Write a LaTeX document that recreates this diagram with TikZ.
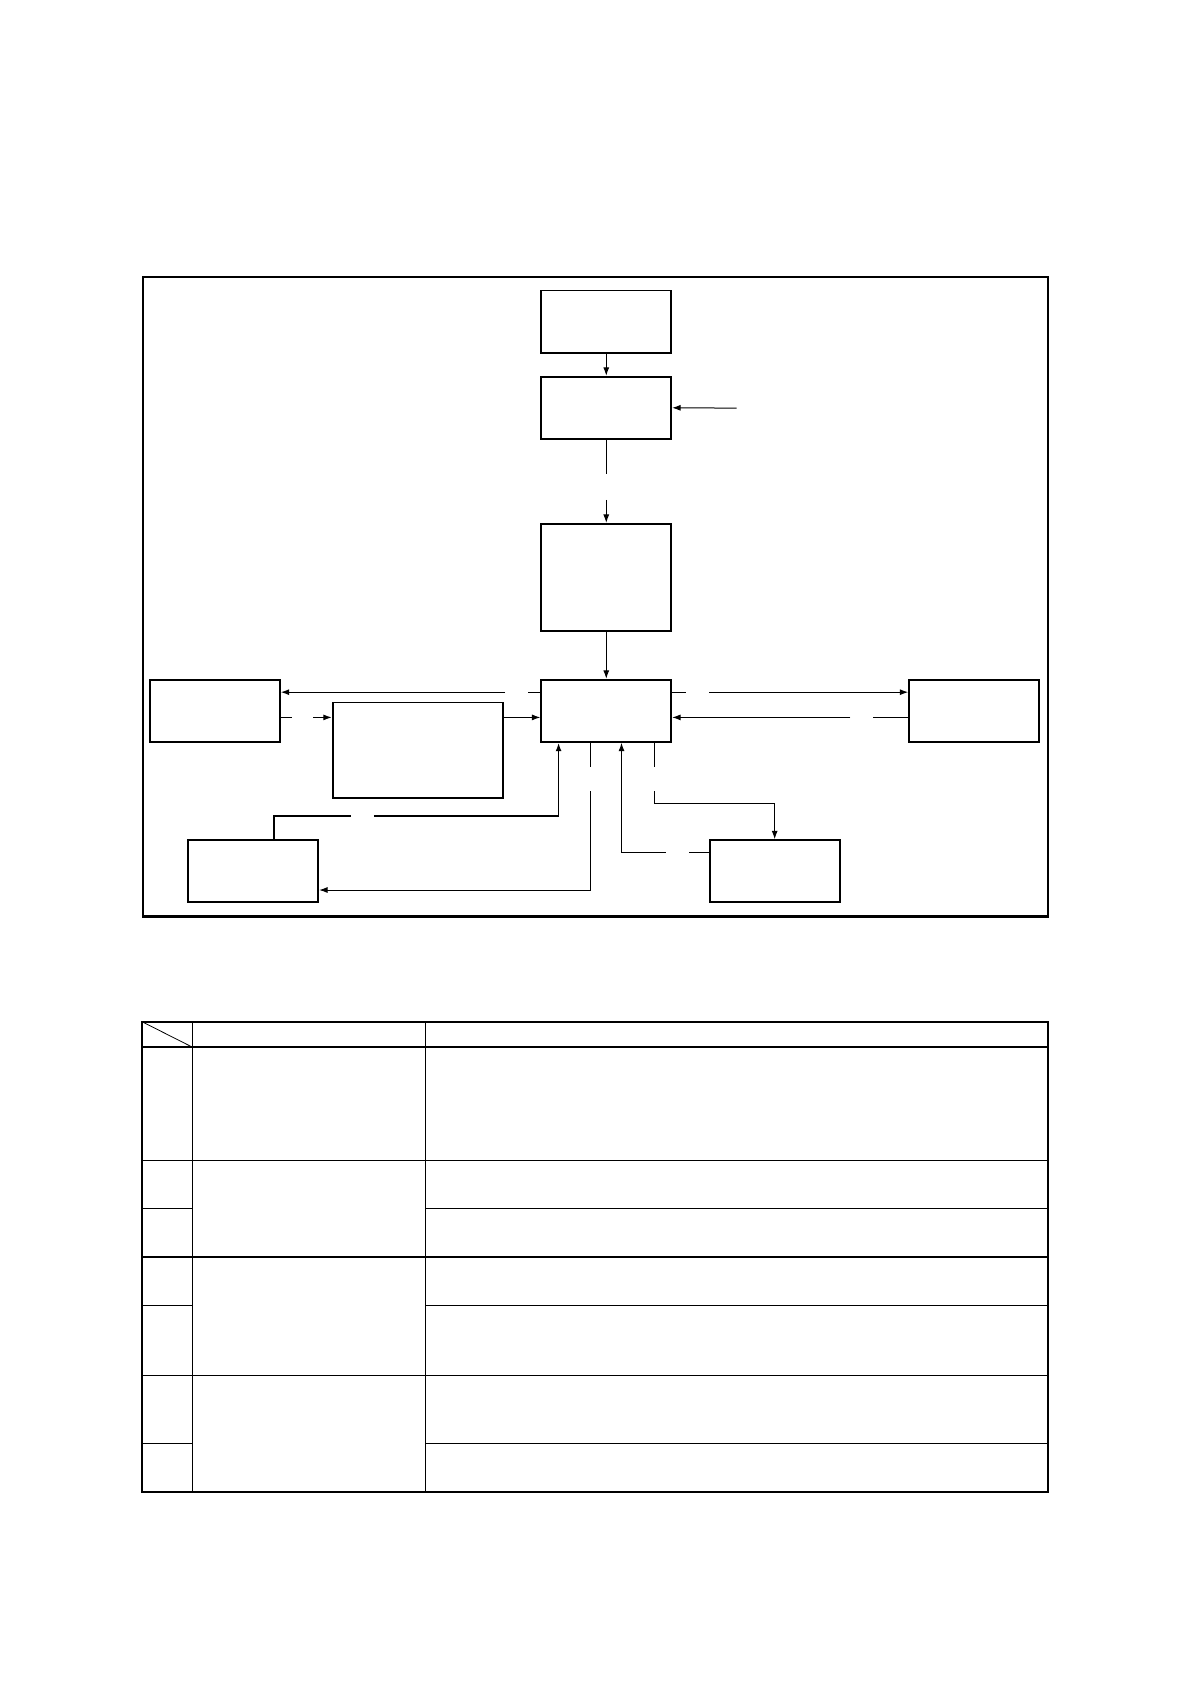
\documentclass[tikz,border=0pt]{standalone}
\usepackage{amsmath}
\usepackage{tikz}
\usetikzlibrary{shapes,arrows,arrows.meta}

\tikzset{
  blk/.style={draw,line width=0.9pt,inner sep=0pt,minimum width=65pt,minimum height=31.1pt},
  link/.style={line width=0.5pt},
}

\begin{document}
\begin{tikzpicture}[x=0.537pt,y=-0.537pt,>={Latex[length=4.2pt,width=3pt]}]
  \useasboundingbox (0,0) rectangle (1108,1568);
  %\draw[step=50,gray,very thin] (0,0) grid (1108,1568);

  % frame of the diagram
  \draw[line width=1.1pt] (133.2,257.8) rectangle (975.8,853.4);

  % blocks
  \node[blk] (src) at (564.5,299.5) {};
  \node[blk] (ctrl) at (564.5,379.7) {};
  \node[blk,minimum height=53.6pt] (proc) at (564.5,537.6) {};
  \node[blk] (hub) at (564.5,661.8) {};
  \node[blk] (left) at (200.1,662.2) {};
  \node[blk,minimum width=85.4pt,minimum height=47.7pt] (mid) at (389.2,698.6) {};
  \node[blk] (right) at (907,662.2) {};
  \node[blk] (botl) at (235.8,811.2) {};
  \node[blk] (botr) at (721.3,811.2) {};

  % free ends and gaps
  \coordinate (in) at (685.8,380);
  \coordinate (g1) at (564.5,441.6);
  \coordinate (g2) at (564.5,465.5);
  \coordinate (a1) at (491.3,644.5);
  \coordinate (a2) at (470.4,644.5);
  \coordinate (b1) at (271.9,668);
  \coordinate (b2) at (291.7,668);
  \coordinate (c1) at (638.5,644.5);
  \coordinate (c2) at (660.5,644.5);
  \coordinate (d1) at (813.3,668);
  \coordinate (d2) at (791.9,668);
  \coordinate (e0) at (254.9,759.7);
  \coordinate (e1) at (326.6,759.7);
  \coordinate (e2) at (348.1,759.7);
  \coordinate (e3) at (520.1,759.7);
  \coordinate (f1) at (549.4,714);
  \coordinate (f2) at (549.4,736.6);
  \coordinate (f3) at (549.4,828.7);
  \coordinate (h1) at (641.3,794);
  \coordinate (h2) at (619.9,794);
  \coordinate (h3) at (578.7,794);
  \coordinate (k1) at (609.1,714);
  \coordinate (k2) at (609.1,736.6);
  \coordinate (k3) at (609.1,748.4);

  % vertical chain
  \draw[link,->] (src) -- (ctrl);
  \draw[link,->] (in) -- (ctrl.east);
  \draw[link] (ctrl) -- (g1);
  \draw[link,->] (g2) -- (proc);
  \draw[link,->] (proc) -- (hub);

  % left side
  \draw[link] (a1 -| hub.west) -- (a1);
  \draw[link,->] (a2) -- (a2 -| left.east);
  \draw[link] (b1 -| left.east) -- (b1);
  \draw[link,->] (b2) -- (b2 -| mid.west);
  \draw[link,->] (b2 -| mid.east) -- (b2 -| hub.west);

  % right side
  \draw[link] (c1 -| hub.east) -- (c1);
  \draw[link,->] (c2) -- (c2 -| right.west);
  \draw[link] (d1 -| right.west) -- (d1);
  \draw[link,->] (d2) -- (d2 -| hub.east);

  % below the hub
  \draw[line width=0.8pt] (e0 |- botl.north) -- (e0) -- (e1);
  \draw[line width=0.8pt,->] (e2) -- (e3) -- (e3 |- hub.south);
  \draw[link] (f1 |- hub.south) -- (f1);
  \draw[link,->] (f2) -- (f3) -- (f3 -| botl.east);
  \draw[link] (h1 -| botr.west) -- (h1);
  \draw[link,->] (h2) -- (h3) -- (h3 |- hub.south);
  \draw[link] (k1 |- hub.south) -- (k1);
  \draw[link,->] (k2) -- (k3) -- (k3 -| botr.north) -- (botr.north);

  % table
  \draw[line width=1.1pt] (132.2,951.3) rectangle (975.8,1389.2);
  \draw[line width=1.1pt] (132.2,975) -- (975.8,975);
  \draw[line width=0.4pt] (132.2,951.3) -- (179.1,975);
  \draw[line width=0.6pt] (179.1,951.3) -- (179.1,1389.2);
  \draw[line width=0.6pt] (396.2,951.3) -- (396.2,1389.2);

  \draw[line width=0.6pt] (132.2,1080.8) -- (975.8,1080.8);
  \draw[line width=0.6pt] (132.2,1125.6) -- (179.1,1125.6);
  \draw[line width=0.6pt] (396.2,1125.6) -- (975.8,1125.6);
  \draw[line width=0.6pt] (132.2,1170.4) -- (975.8,1170.4);
  \draw[line width=0.6pt] (132.2,1215.2) -- (179.1,1215.2);
  \draw[line width=0.6pt] (396.2,1215.2) -- (975.8,1215.2);
  \draw[line width=0.6pt] (132.2,1280.6) -- (975.8,1280.6);
  \draw[line width=0.6pt] (132.2,1344.1) -- (179.1,1344.1);
  \draw[line width=0.6pt] (396.2,1344.1) -- (975.8,1344.1);

\end{tikzpicture}
\end{document}
